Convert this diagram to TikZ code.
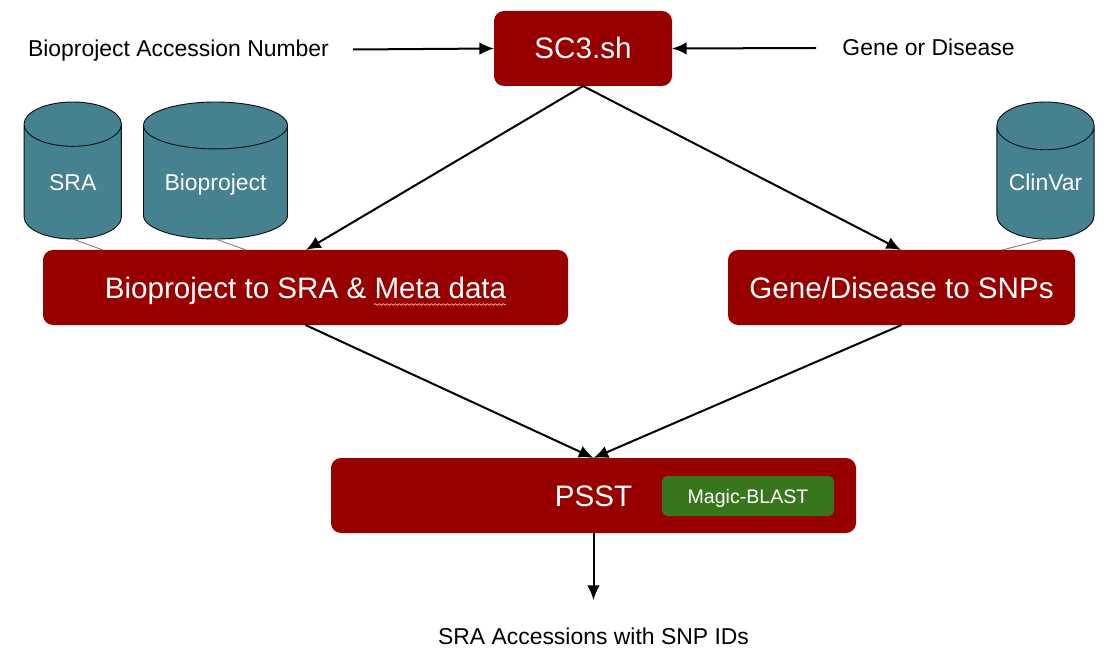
\documentclass[tikz,border=0pt]{standalone}
\usepackage{fontspec}
\setmainfont{Liberation Sans}
\usetikzlibrary{shapes.geometric,decorations.pathmorphing,arrows.meta}
\definecolor{boxred}{HTML}{980000}
\definecolor{dbteal}{HTML}{45818E}
\definecolor{toolgreen}{HTML}{38761D}
\tikzset{
    redbox/.style={fill=boxred,text=white,rounded corners=7.5pt,inner sep=0pt,outer sep=0pt,minimum height=56.25pt,text height=15.75pt,text depth=0pt,font=\fontsize{22.2}{26}\selectfont},
    dbcyl/.style={cylinder,shape border rotate=90,draw=black!85!dbteal,fill=dbteal,text=white,line width=.7pt,inner sep=0pt,outer sep=0pt,minimum height=102.75pt,anchor=south,text height=12.3pt,text depth=0pt,font=\fontsize{17.2}{20}\selectfont},
    plainlabel/.style={inner sep=0pt,text height=12.3pt,text depth=0pt,font=\fontsize{17.2}{20}\selectfont},
    flow/.style={-{Latex[length=11pt,width=9.5pt]},line width=1.5pt},
    tie/.style={gray,line width=.7pt}
}
\begin{document}
\begin{tikzpicture}[x=.75pt,y=-.75pt]
\useasboundingbox (0,0) rectangle (1117,659);

\node[redbox,minimum width=133.5pt] (sc3) at (583,48.5){SC3.sh};
\node[redbox,minimum width=393.75pt] (bpsra) at (305.5,287.5){Bioproject to SRA \& Meta data};
\node[redbox,minimum width=260.25pt] (genesnp) at (901.5,287.5){Gene/Disease to SNPs};
\node[redbox,minimum width=393.75pt] (psst) at (593.5,495.5){PSST};
\node[fill=toolgreen,text=white,rounded corners=4pt,inner sep=0pt,minimum width=129pt,minimum height=30pt,text height=10.5pt,text depth=0pt,font=\fontsize{14.7}{18}\selectfont] (magic) at (748,496){Magic-BLAST};

\node[dbcyl,aspect=.94,minimum width=73pt] (sra) at (72.75,239){SRA};
\node[dbcyl,aspect=.46,minimum width=108pt] (bioproject) at (215.5,239){Bioproject};
\node[dbcyl,aspect=.65,minimum width=73pt] (clinvar) at (1045.5,239){ClinVar};

\node[plainlabel] (accession) at (178.5,48){Bioproject Accession Number};
\node[plainlabel] (disease) at (928.5,47){Gene or Disease};
\node[plainlabel] (result) at (593.5,636){SRA Accessions with SNP IDs};

\coordinate (accessionend) at (353,49.5);
\coordinate (diseaseend) at (816,48);
\coordinate (resultend) at (593.5,600);
\coordinate (bpsratop) at (306,250);
\coordinate (genetop) at (901,250);
\coordinate (sratie) at (103,250);
\coordinate (bptie) at (246,250);
\coordinate (clinvartie) at (1002,250);
\coordinate (squigstart) at (374,304.5);
\coordinate (squigend) at (506,304.5);

\draw[flow] (accessionend)--(sc3.west);
\draw[flow] (diseaseend)--(sc3.east);
\draw[flow] (sc3.south)--(bpsratop);
\draw[flow] (sc3.south)--(genetop);
\draw[flow] (bpsra.south)--(psst.north);
\draw[flow] (genesnp.south)--(psst.north);
\draw[flow] (psst.south)--(resultend);

\draw[tie] (sra.south)--(sratie);
\draw[tie] (bioproject.south)--(bptie);
\draw[tie] (clinvar.south)--(clinvartie);

\draw[red!30!white,line width=.5pt,decorate,decoration={snake,amplitude=.6pt,segment length=3pt}] (squigstart)--(squigend);

\end{tikzpicture}
\end{document}
